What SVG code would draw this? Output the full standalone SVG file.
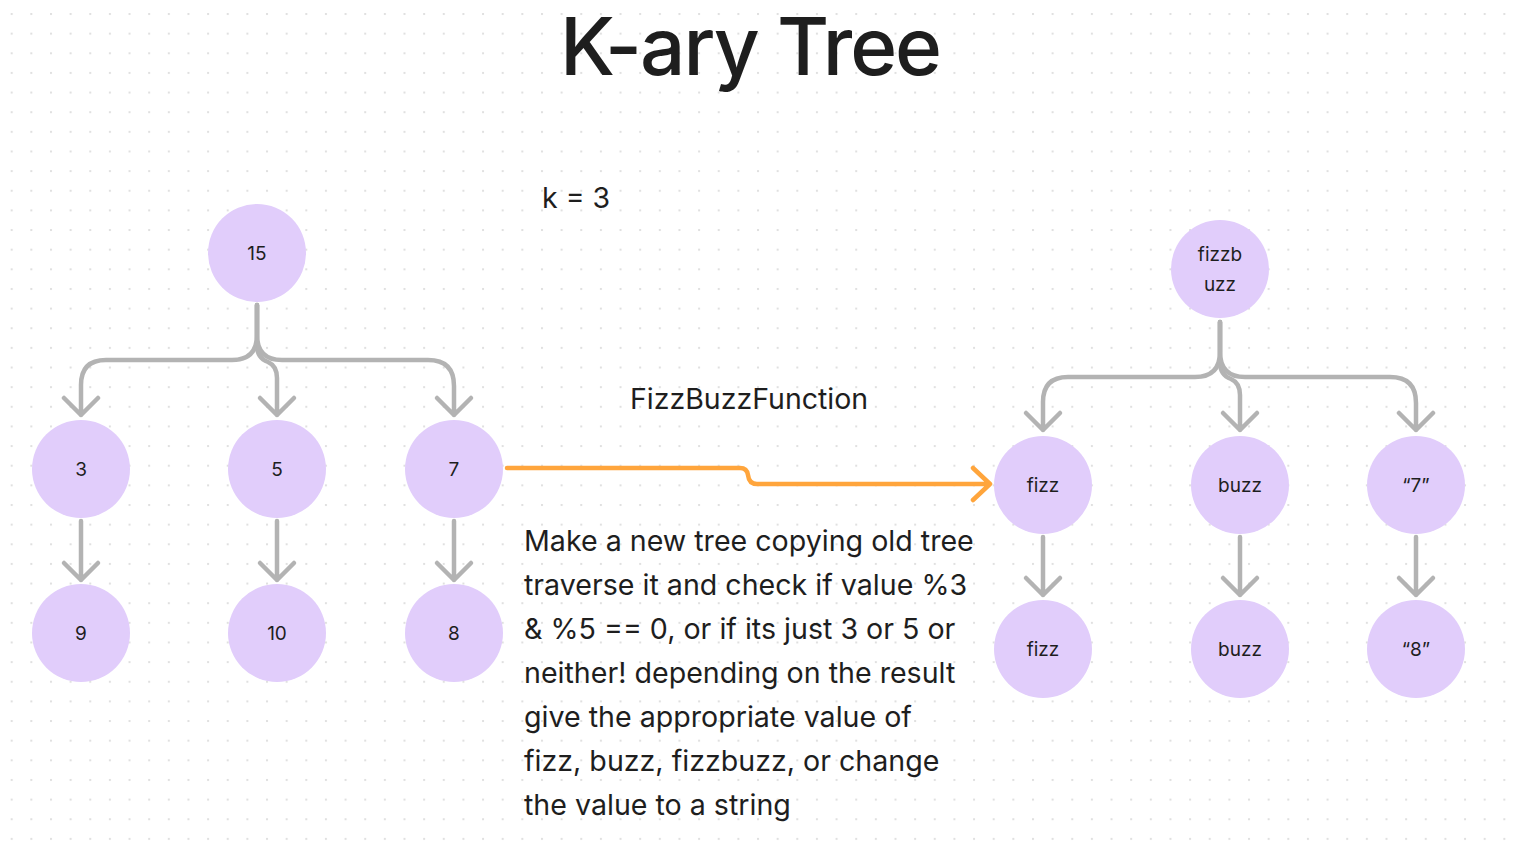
<svg xmlns="http://www.w3.org/2000/svg" width="1522" height="844" viewBox="0 0 1522 844">
<defs>
<pattern id="dots" x="10.7" y="13" width="19.64" height="19.64" patternUnits="userSpaceOnUse">
<rect x="0" y="0" width="2" height="2" fill="#e0e0e0"/>
</pattern>
<style>
.n{fill:#e1cdfb}
.t{font-family:Inter,"Liberation Sans",sans-serif;font-size:19px;fill:#1e1e1e;text-anchor:middle}
.c{fill:none;stroke:#b3b3b3;stroke-width:4.5;stroke-linecap:round;stroke-linejoin:round}
.o{fill:none;stroke:#ffa53c;stroke-width:4.5;stroke-linecap:round;stroke-linejoin:round}
.big{font-family:Inter,"Liberation Sans",sans-serif;fill:#1e1e1e}
</style>
</defs>
<rect width="1522" height="844" fill="#ffffff"/>
<rect width="1522" height="844" fill="url(#dots)"/>
<text class="big" x="750" y="75" font-size="80" font-weight="500" letter-spacing="-2" text-anchor="middle">K-ary Tree</text>
<text class="big" x="542" y="208" font-size="28.5">k = 3</text>
<text class="big" x="630" y="409" font-size="28.5">FizzBuzzFunction</text>
<text class="big" x="524" font-size="28.6">
<tspan x="524" y="551">Make a new tree copying old tree</tspan>
<tspan x="524" y="595">traverse it and check if value %3</tspan>
<tspan x="524" y="639">&amp; %5 == 0, or if its just 3 or 5 or</tspan>
<tspan x="524" y="683">neither! depending on the result</tspan>
<tspan x="524" y="727">give the appropriate value of</tspan>
<tspan x="524" y="771">fizz, buzz, fizzbuzz, or change</tspan>
<tspan x="524" y="815">the value to a string</tspan>
</text>
<g id="connectors">
<path class="c" d="M257 305 V335 Q257 360 232 360 H106 Q81 360 81 385 V415 M64 398 L81 415 L98 398"/>
<path class="c" d="M257 305 V345 Q257 358 268 362 Q277 366 277 378 V415 M260 398 L277 415 L294 398"/>
<path class="c" d="M257 305 V335 Q257 360 282 360 H428 Q454 360 454 386 V415 M437 398 L454 415 L471 398"/>
<path class="c" d="M81 521 V580 M64 563 L81 580 L98 563"/>
<path class="c" d="M277 521 V580 M260 563 L277 580 L294 563"/>
<path class="c" d="M454 521 V580 M437 563 L454 580 L471 563"/>
<path class="c" d="M1220 322 V352 Q1220 377 1195 377 H1068 Q1043 377 1043 402 V430 M1026 413 L1043 430 L1060 413"/>
<path class="c" d="M1220 322 V362 Q1220 375 1231 379 Q1240 383 1240 395 V430 M1223 413 L1240 430 L1257 413"/>
<path class="c" d="M1220 322 V352 Q1220 377 1245 377 H1390 Q1416 377 1416 403 V430 M1399 413 L1416 430 L1433 413"/>
<path class="c" d="M1043 537 V595 M1026 578 L1043 595 L1060 578"/>
<path class="c" d="M1240 537 V595 M1223 578 L1240 595 L1257 578"/>
<path class="c" d="M1416 537 V595 M1399 578 L1416 595 L1433 578"/>
<path class="o" d="M507 468 H740 Q747 468 748 475 Q749 484 757 484 H990 M973 468 L990 484 L973 500"/>
</g>
<g id="n15"><circle class="n" cx="257" cy="253" r="49"/><text class="t" x="257" y="260">15</text></g>
<g id="n3"><circle class="n" cx="81" cy="469" r="49"/><text class="t" x="81" y="476">3</text></g>
<g id="n5"><circle class="n" cx="277" cy="469" r="49"/><text class="t" x="277" y="476">5</text></g>
<g id="n7"><circle class="n" cx="454" cy="469" r="49"/><text class="t" x="454" y="476">7</text></g>
<g id="n9"><circle class="n" cx="81" cy="633" r="49"/><text class="t" x="81" y="640">9</text></g>
<g id="n10"><circle class="n" cx="277" cy="633" r="49"/><text class="t" x="277" y="640">10</text></g>
<g id="n8"><circle class="n" cx="454" cy="633" r="49"/><text class="t" x="454" y="640">8</text></g>
<g id="rfizzbuzz"><circle class="n" cx="1220" cy="269" r="49"/><text class="t" x="1220" y="261">fizzb</text><text class="t" x="1220" y="291">uzz</text></g>
<g id="rfizz1"><circle class="n" cx="1043" cy="485" r="49"/><text class="t" x="1043" y="492">fizz</text></g>
<g id="rbuzz1"><circle class="n" cx="1240" cy="485" r="49"/><text class="t" x="1240" y="492">buzz</text></g>
<g id="r7"><circle class="n" cx="1416" cy="485" r="49"/><text class="t" x="1416" y="492">“7”</text></g>
<g id="rfizz2"><circle class="n" cx="1043" cy="649" r="49"/><text class="t" x="1043" y="656">fizz</text></g>
<g id="rbuzz2"><circle class="n" cx="1240" cy="649" r="49"/><text class="t" x="1240" y="656">buzz</text></g>
<g id="r8"><circle class="n" cx="1416" cy="649" r="49"/><text class="t" x="1416" y="656">“8”</text></g>
</svg>
